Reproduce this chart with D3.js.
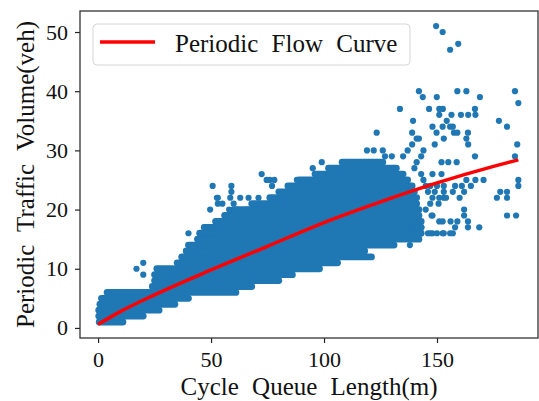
<!DOCTYPE html>
<html>
<head>
<meta charset="utf-8">
<script src="https://cdn.jsdelivr.net/npm/d3@7"></script>
<style>
  body { margin: 0; background: #fff; }
  svg { display: block; }
</style>
</head>
<body>
<script>
// dense rows of the scatter: each integer volume level is packed from x0 to x1
const bandY  = [1, 2, 3, 4, 5, 6, 7, 8, 9, 10, 11, 12, 13, 14, 15, 16, 17, 18, 19, 20, 21, 22, 23, 24, 25, 26, 27, 28];
const bandX0 = [0.5, 0.3, 0.3, 0.8, 1.5, 4, 24, 25, 25, 26, 35, 37, 39, 40, 44, 45, 47, 52, 56, 60, 68, 76, 80, 84, 89, 96, 102, 108];
const bandX1 = [11, 20, 27, 34, 40, 61, 68, 80, 86, 98, 106, 121, 118, 131, 142, 143, 143, 143, 142, 142, 141, 141, 140, 139, 137, 135, 132, 126];

// isolated points (queue length, volume)
const sparseX = [149.6, 152.5, 159.4, 155.8, 142, 143.7, 149.9, 159, 163, 169, 184.5, 186,
  133.6, 146.5, 151, 152.6, 166.8, 151, 156.4, 160.6, 163.8, 167, 139.4, 154.3, 177.4,
  148, 152.5, 155.8, 157, 181, 123.3, 139, 149.8, 157.5, 159, 163.7, 141, 142, 153, 163,
  139, 149, 163.8, 185.5, 119, 122, 126, 137, 144, 127, 130, 135, 166.8, 184.5,
  152, 155, 158.7, 148, 152, 72.4, 95, 99, 163, 167, 170.6, 186, 88, 74.6, 76, 78,
  158, 161, 165, 186, 50.7, 59, 77, 88, 153, 157, 162, 178, 181, 59,
  148, 153, 176.5, 181, 52.6, 58.5, 62.9, 66.6, 71, 150.7, 80.5, 84, 60, 162,
  148, 162, 181, 185, 152.5, 156, 159, 163.7, 158, 163.7, 168.7,
  146, 148, 152.5, 155.8, 138, 17, 20, 20, 41, 47, 40,
  145, 147, 150, 153, 146, 149, 151, 154, 160, 141, 147.6, 151, 139, 143, 147, 150, 153, 157,
  143, 141, 140, 143, 145, 147, 144,
  53, 53, 55, 49.6, 58, 61.6, 66, 70, 75, 47, 51, 45, 48, 52, 42];
const sparseY = [51, 50, 48, 47, 40, 39, 39, 40, 40, 39, 40, 38,
  37, 37, 37, 37, 37, 36, 36, 36, 36, 36, 35, 35, 35,
  34, 34, 34, 34, 34, 33, 33, 33, 33, 33, 33, 32, 32, 32, 32,
  31, 31, 31, 31, 30, 30, 30, 30, 30, 29, 29, 29, 29, 29,
  28, 28, 28, 26, 26, 26, 27, 28, 25, 25, 25, 25, 25, 25, 25, 25,
  24, 24, 24, 24, 24, 24, 24, 24, 23, 23, 23, 23, 23, 23,
  22, 22, 22, 22, 22, 22, 22, 22, 22, 21, 21, 21, 21, 20,
  19, 19, 19, 19, 18, 18, 18, 18, 17, 17, 17,
  16, 16, 16, 16, 14, 10, 11, 9, 14, 14, 16,
  24, 24, 24, 24, 23, 23, 22, 22, 22, 20, 19, 18, 17, 17, 16, 16, 16, 16,
  29, 28, 27, 26, 20, 21, 25,
  22, 21, 21, 20, 20, 20, 20, 20, 20, 17, 17, 16, 16, 16, 13];

// fitted periodic flow curve
const curveX = [0, 10, 25, 50, 75, 100, 125, 150, 175, 186];
const curveY = [0.6, 2.8, 5.6, 9.8, 13.8, 17.8, 21.3, 24.5, 27.3, 28.4];

const xTicks = [0, 50, 100, 150];
const yTicks = [0, 10, 20, 30, 40, 50];

const width = 539, height = 401;
const margin = {left: 80, right: 538, top: 11, bottom: 338};
const blue = "#1f77b4";
const serif = "'Liberation Serif', 'Times New Roman', serif";

const svg = d3.select("body").append("svg")
    .attr("width", width)
    .attr("height", height);

const x = d3.scaleLinear().domain([-8, 194.7]).range([margin.left, margin.right]);
const y = d3.scaleLinear().domain([-1.7, 53.55]).range([margin.bottom, margin.top]);

// packed rows drawn as round-capped strokes the width of one marker
svg.append("g")
    .attr("stroke", blue)
    .attr("stroke-width", 6.8)
    .attr("stroke-linecap", "round")
    .selectAll("line")
    .data(bandY)
    .join("line")
    .attr("x1", (d, i) => x(bandX0[i]))
    .attr("x2", (d, i) => x(bandX1[i]))
    .attr("y1", d => y(d))
    .attr("y2", d => y(d));

svg.append("g")
    .attr("fill", blue)
    .selectAll("circle")
    .data(sparseX)
    .join("circle")
    .attr("cx", d => x(d))
    .attr("cy", (d, i) => y(sparseY[i]))
    .attr("r", 3.1);

const curve = curveX.map((d, i) => [d, curveY[i]]);
svg.append("path")
    .datum(curve)
    .attr("fill", "none")
    .attr("stroke", "#ff0000")
    .attr("stroke-width", 3.5)
    .attr("d", d3.line().x(d => x(d[0])).y(d => y(d[1])).curve(d3.curveMonotoneX));

// axes
const xAxis = svg.append("g")
    .attr("transform", `translate(0,${margin.bottom})`)
    .call(d3.axisBottom(x).tickValues(xTicks).tickSize(5).tickPadding(8));
const yAxis = svg.append("g")
    .attr("transform", `translate(${margin.left},0)`)
    .call(d3.axisLeft(y).tickValues(yTicks).tickSize(5).tickPadding(7));

[xAxis, yAxis].forEach(g => {
    g.select(".domain").remove();
    g.selectAll(".tick line").attr("stroke", "#222").attr("stroke-width", 1.2);
    g.selectAll(".tick text")
        .attr("fill", "#111")
        .style("font-family", serif)
        .style("font-size", "22px");
});

svg.append("rect")
    .attr("x", margin.left)
    .attr("y", margin.top)
    .attr("width", margin.right - margin.left)
    .attr("height", margin.bottom - margin.top)
    .attr("fill", "none")
    .attr("stroke", "#333")
    .attr("stroke-width", 1.3);

svg.append("text")
    .attr("x", (margin.left + margin.right) / 2)
    .attr("y", 395)
    .attr("text-anchor", "middle")
    .style("font-family", serif)
    .style("font-size", "25px")
    .style("word-spacing", "7px")
    .attr("fill", "#111")
    .text("Cycle Queue Length(m)");

svg.append("text")
    .attr("transform", `translate(34,${(margin.top + margin.bottom) / 2}) rotate(-90)`)
    .attr("text-anchor", "middle")
    .style("font-family", serif)
    .style("font-size", "25px")
    .style("word-spacing", "7px")
    .attr("fill", "#111")
    .text("Periodic Traffic Volume(veh)");

// legend
const legend = svg.append("g");
legend.append("rect")
    .attr("x", 93)
    .attr("y", 24)
    .attr("width", 317)
    .attr("height", 41)
    .attr("rx", 4)
    .attr("fill", "#fff")
    .attr("fill-opacity", 0.8)
    .attr("stroke", "#d6d6d6")
    .attr("stroke-width", 1);
legend.append("line")
    .attr("x1", 100)
    .attr("x2", 155)
    .attr("y1", 42)
    .attr("y2", 42)
    .attr("stroke", "#ff0000")
    .attr("stroke-width", 3.5);
legend.append("text")
    .attr("x", 175)
    .attr("y", 52)
    .style("font-family", serif)
    .style("font-size", "25px")
    .style("word-spacing", "7px")
    .attr("fill", "#111")
    .text("Periodic Flow Curve");
</script>
</body>
</html>
